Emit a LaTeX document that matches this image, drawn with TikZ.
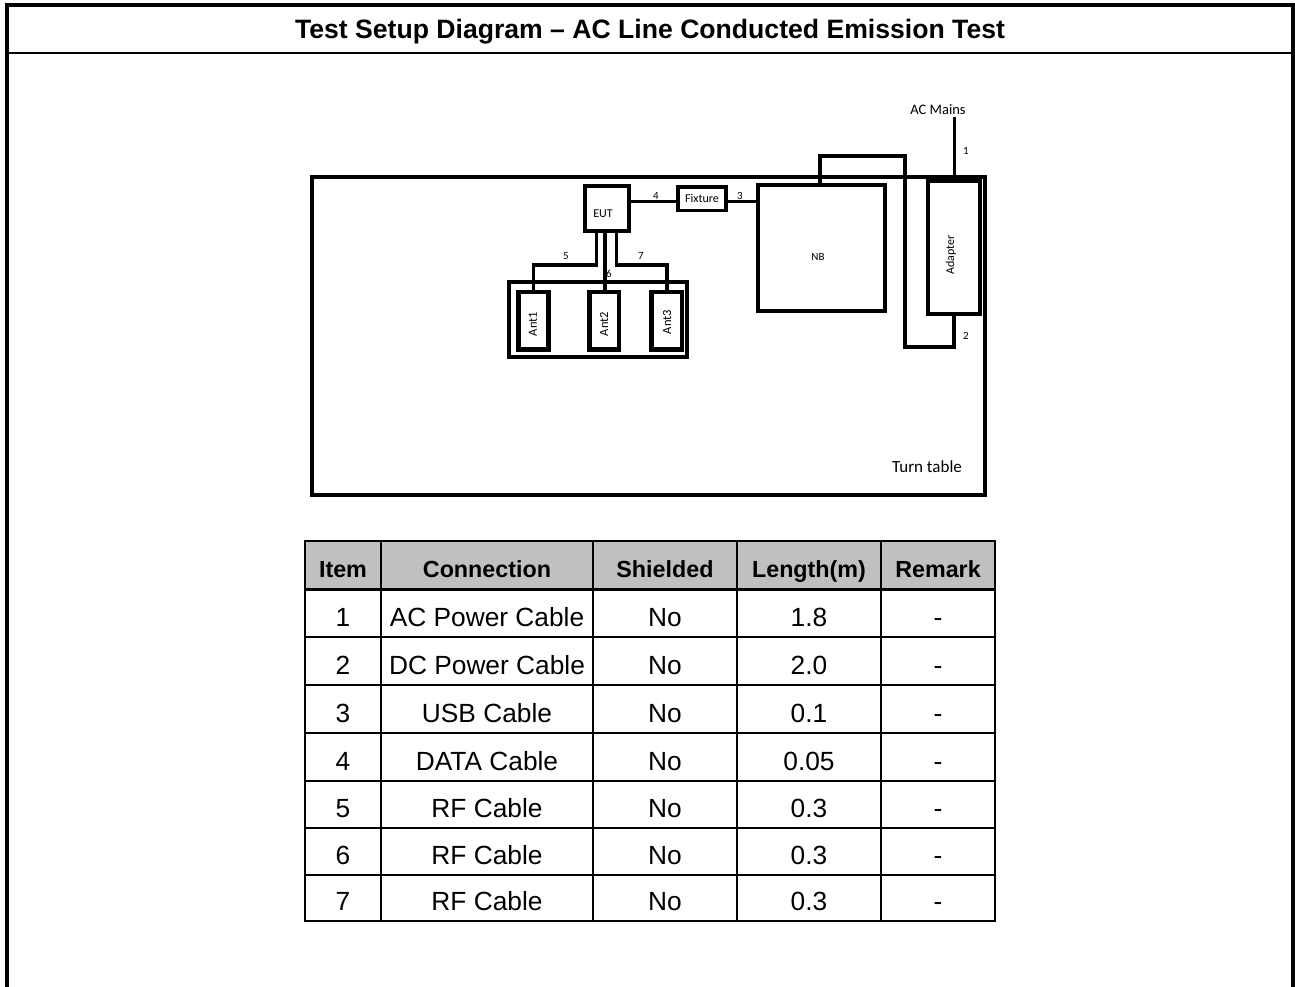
\documentclass[tikz,border=0pt]{standalone}
\usepackage{fontspec}
\setmainfont{Liberation Sans}
\newfontfamily\carl{Carlito}
\definecolor{hdr}{RGB}{192,192,192}
\begin{document}
\begin{tikzpicture}[x=1pt,y=-1pt,
  heavy/.style={line width=4pt},
  boxn/.style={draw, line width=4pt, inner sep=0pt, outer sep=0pt},
  cable/.style={line width=3.5pt},
  lbl/.style={inner sep=0pt, font=\carl\fontsize{11}{13}\selectfont},
  tcell/.style={inner sep=0pt, anchor=base, font=\fontsize{26.3}{30}\selectfont},
  thead/.style={inner sep=0pt, anchor=base, font=\bfseries\fontsize{23.3}{28}\selectfont},
  gridl/.style={line width=2.5pt, line cap=rect}]

\useasboundingbox (0,0) rectangle (1295,986);

% outer frame and title
\draw[heavy] (7,992) -- (7,5) -- (1293,5) -- (1293,992);
\draw[line width=2.5pt] (7,53) -- (1293,53);
\node[anchor=base, inner sep=0pt, font=\bfseries\fontsize{26.6}{30}\selectfont] (title) at (650,38) {Test Setup Diagram – AC Line Conducted Emission Test};

% turn table
\node[boxn, minimum width=673.5pt, minimum height=318pt] (tt) at (648.25,336) {};
\node[inner sep=0pt, font=\carl\fontsize{17}{20}\selectfont] (ttl) at (927,467) {Turn table};

% boxes
\node[boxn, minimum width=127.5pt, minimum height=125.5pt] (nb) at (821.25,247.75) {};
\node[lbl] (nbl) at (818,257) {NB};
\node[boxn, minimum width=51.5pt, minimum height=133pt] (adapter) at (953.75,247.5) {};
\node[lbl, rotate=90, font=\carl\fontsize{12}{14}\selectfont] (adl) at (951,255) {Adapter};
\node[boxn, minimum width=44pt, minimum height=45pt] (eut) at (607,208.5) {};
\node[lbl, font=\carl\fontsize{12}{14}\selectfont] (eutl) at (603,214) {EUT};
\node[boxn, line width=3.5pt, minimum width=48pt, minimum height=23.5pt, font=\carl\fontsize{12}{14}\selectfont] (fix) at (702,198.75) {Fixture};
\node[boxn, line width=3.5pt, minimum width=178pt, minimum height=75pt] (enc) at (598,319.5) {};
\node[boxn, line width=4.5pt, minimum width=30pt, minimum height=57.5pt] (ant1) at (533.5,320.75) {};
\node[boxn, line width=4.5pt, minimum width=29.5pt, minimum height=57.5pt] (ant2) at (604.25,320.75) {};
\node[boxn, line width=4.5pt, minimum width=30.5pt, minimum height=57.5pt] (ant3) at (666.75,320.75) {};
\node[lbl, rotate=90, font=\carl\fontsize{12.5}{14}\selectfont] (a1l) at (533,324) {Ant1};
\node[lbl, rotate=90, font=\carl\fontsize{12.5}{14}\selectfont] (a2l) at (604,324) {Ant2};
\node[lbl, rotate=90, font=\carl\fontsize{12.5}{14}\selectfont] (a3l) at (667,322) {Ant3};

% cables
\coordinate (acm) at (954.5,117);
\draw[cable] (acm) -- (acm |- adapter.north);
\coordinate (l1) at (905,156);
\coordinate (l2) at (905,347);
\draw[cable] ([xshift=-1.25pt]nb.north) |- (l1) -- (l2) -| (adapter.south);
\draw[cable] ([yshift=7pt]eut.east) -- ([yshift=7pt]eut.east -| fix.west);
\draw[cable] ([yshift=-2.75pt]fix.east) -- ([yshift=-2.75pt]fix.east -| nb.west);
\coordinate (c5) at (533.5,265);
\coordinate (c7) at (666.75,265);
\draw[cable] ([xshift=-10.5pt]eut.south) |- (c5) -- (ant1.north);
\draw[cable] ([xshift=-2pt]eut.south) -- ([xshift=-2pt]eut.south |- ant2.north);
\draw[cable] ([xshift=9.5pt]eut.south) |- (c7) -- (ant3.north);

% labels
\node[lbl, font=\carl\fontsize{14.5}{16}\selectfont] (acl) at (938,110) {AC Mains};
\node[lbl] (n1) at (966,151) {1};
\node[lbl] (n2) at (966,336) {2};
\node[lbl] (n3) at (740,196) {3};
\node[lbl] (n4) at (656,196) {4};
\node[lbl] (n5) at (566,256) {5};
\node[lbl] (n6) at (609,274) {6};
\node[lbl] (n7) at (641,256) {7};

% table
\fill[hdr] (305,541) rectangle (995,589.5);
\foreach \yy in {541,589.5,637,685,733,781,828,875,921}
  \draw[gridl] (305,\yy) -- (995,\yy);
\foreach \xx in {305,381,593,737,881,995}
  \draw[gridl] (\xx,541) -- (\xx,921);
\node[thead] (h1) at (343,577) {Item};
\node[thead] (h2) at (487,577) {Connection};
\node[thead] (h3) at (665,577) {Shielded};
\node[thead] (h4) at (809,577) {Length(m)};
\node[thead] (h5) at (938,577) {Remark};
\foreach \i/\c/\l/\b in {1/AC Power Cable/1.8/626.5, 2/DC Power Cable/2.0/674.5, 3/USB Cable/0.1/722.5, 4/DATA Cable/0.05/770.5, 5/RF Cable/0.3/817.5, 6/RF Cable/0.3/864.5, 7/RF Cable/0.3/910.5}{
  \node[tcell] (it\i) at (343,\b) {\i};
  \node[tcell] (cn\i) at (487,\b) {\c};
  \node[tcell] (sh\i) at (665,\b) {No};
  \node[tcell] (ln\i) at (809,\b) {\l};
  \node[tcell] (rm\i) at (938,\b) {-};
}
\end{tikzpicture}
\end{document}
